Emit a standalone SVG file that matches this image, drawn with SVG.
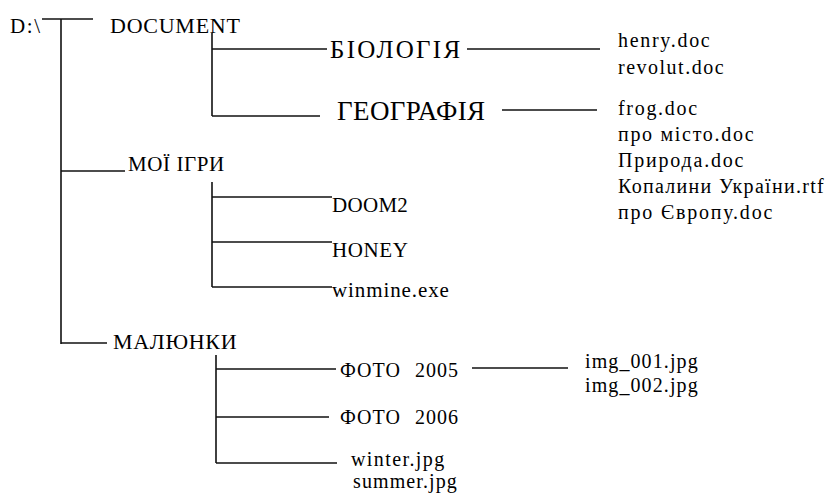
<svg xmlns="http://www.w3.org/2000/svg" width="830" height="494" viewBox="0 0 830 494">
<rect width="830" height="494" fill="#ffffff"/>
<g id="connectors" stroke="#111" stroke-width="1.6" fill="none">
  <path d="M42,19 H93"/>
  <path d="M61,19 V344"/>
  <path d="M61,171 H125"/>
  <path d="M61,343 H107"/>
  <path d="M212,33 V116"/>
  <path d="M212,49 H327"/>
  <path d="M212,116 H320"/>
  <path d="M467,49 H600"/>
  <path d="M502,110 H597"/>
  <path d="M212,182 V287"/>
  <path d="M212,197 H332"/>
  <path d="M212,242 H332"/>
  <path d="M212,287 H332"/>
  <path d="M216,355 V463"/>
  <path d="M216,369 H336"/>
  <path d="M216,417 H329"/>
  <path d="M216,463 H337"/>
  <path d="M472,368 H568"/>
</g>
<g id="root"><text x="10" y="33" font-size="21" letter-spacing="1.6" font-family="Liberation Serif">D:\</text></g>
<g id="document"><text x="110" y="33" font-size="22" letter-spacing="0.75" font-family="Liberation Serif">DOCUMENT</text></g>
<g id="biologia"><text x="330" y="58" font-size="25" letter-spacing="2.3" font-family="Liberation Serif">БІОЛОГІЯ</text></g>
<g id="geografia"><text x="337" y="120" font-size="27" letter-spacing="0.4" font-family="Liberation Serif">ГЕОГРАФІЯ</text></g>
<g id="bio-files">
  <text x="618" y="47" font-size="20" letter-spacing="1.7" font-family="Liberation Serif">henry.doc</text>
  <text x="618" y="74" font-size="20" letter-spacing="1.5" font-family="Liberation Serif">revolut.doc</text>
</g>
<g id="geo-files">
  <text x="618" y="115" font-size="20" letter-spacing="1.7" font-family="Liberation Serif">frog.doc</text>
  <text x="618" y="141" font-size="20" letter-spacing="1.7" font-family="Liberation Serif">про місто.doc</text>
  <text x="618" y="167" font-size="20" letter-spacing="1.8" font-family="Liberation Serif">Природа.doc</text>
  <text x="618" y="193" font-size="20" letter-spacing="1.3" font-family="Liberation Serif">Копалини України.rtf</text>
  <text x="618" y="219" font-size="20" letter-spacing="1.8" font-family="Liberation Serif">про Європу.doc</text>
</g>
<g id="moi-igry"><text x="128" y="171" font-size="21" letter-spacing="0.6" font-family="Liberation Serif">МОЇ ІГРИ</text></g>
<g id="doom2"><text x="332" y="212" font-size="21" letter-spacing="0.3" font-family="Liberation Serif">DOOM2</text></g>
<g id="honey"><text x="332" y="257" font-size="21" letter-spacing="0.6" font-family="Liberation Serif">HONEY</text></g>
<g id="winmine"><text x="332" y="297" font-size="21" letter-spacing="0.9" font-family="Liberation Serif">winmine.exe</text></g>
<g id="malyunky"><text x="113" y="349" font-size="22" letter-spacing="0.7" font-family="Liberation Serif">МАЛЮНКИ</text></g>
<g id="foto2005"><text x="340" y="377" font-size="20" letter-spacing="1" font-family="Liberation Serif">ФОТО <tspan x="415">2005</tspan></text></g>
<g id="foto2006"><text x="340" y="424" font-size="20" letter-spacing="1" font-family="Liberation Serif">ФОТО <tspan x="415">2006</tspan></text></g>
<g id="foto-files">
  <text x="585" y="368" font-size="20" letter-spacing="1.1" font-family="Liberation Serif">img_001.jpg</text>
  <text x="585" y="392" font-size="20" letter-spacing="1.1" font-family="Liberation Serif">img_002.jpg</text>
</g>
<g id="malyunky-files">
  <text x="351" y="466" font-size="20" letter-spacing="1.4" font-family="Liberation Serif">winter.jpg</text>
  <text x="353" y="488" font-size="20" letter-spacing="1.1" font-family="Liberation Serif">summer.jpg</text>
</g>
</svg>
